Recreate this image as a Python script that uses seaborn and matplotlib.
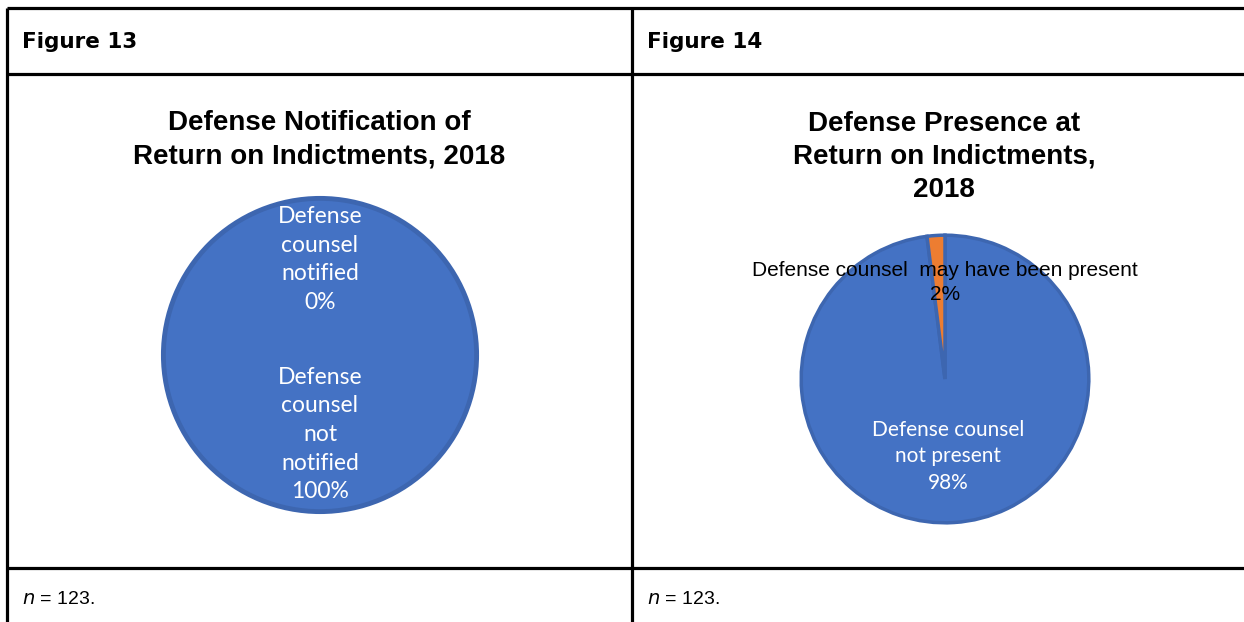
import matplotlib
matplotlib.use("Agg")
import matplotlib.pyplot as plt
import seaborn as sns

# Data
fig13_labels = ["Defense\ncounsel\nnotified", "Defense\ncounsel\nnot\nnotified"]
fig13_values = [0, 100]
fig14_labels = ["Defense counsel\nnot present", "Defense counsel  may have been present"]
fig14_values = [98, 2]

W, H = 1244, 622

sns.set_theme(style="white")
plt.rcParams['font.family'] = ['Lato', 'DejaVu Sans']
plt.rcParams['text.color'] = 'black'
blue, orange = sns.color_palette(["#4472C4", "#ED7D31"])
edge = "#3D66B0"

fig = plt.figure(figsize=(W / 100, H / 100), dpi=100)
fig.patch.set_facecolor("white")

# table grid drawn on a pixel-space background axes
bg = fig.add_axes([0, 0, 1, 1])
bg.set_xlim(0, W)
bg.set_ylim(H, 0)
bg.axis("off")
lw = 2.3
for y in [8, 74, 568]:
    bg.plot([7, W], [y, y], color="black", lw=lw, solid_capstyle="butt")
for x in [7, 632]:
    bg.plot([x, x], [8, H], color="black", lw=lw, solid_capstyle="butt")

# header / footer text
for x, txt in [(22, "Figure 13"), (647, "Figure 14")]:
    bg.text(x, 42, txt, fontsize=15.5, fontweight="bold", va="center", ha="left",
            family=["DejaVu Sans"])
    bg.text(x, 600, "$n$ = 123.", fontsize=14, va="center", ha="left",
            family=["Liberation Sans"])

# chart titles
bg.text(319, 140, "Defense Notification of\nReturn on Indictments, 2018", fontsize=20,
        fontweight="bold", ha="center", va="center", linespacing=1.35,
        family=["Liberation Sans"])
bg.text(944, 157, "Defense Presence at\nReturn on Indictments,\n2018", fontsize=20,
        fontweight="bold", ha="center", va="center", linespacing=1.35,
        family=["Liberation Sans"])


def pie_axes(cx, cy, r):
    ax = fig.add_axes([(cx - r) / W, (H - cy - r) / H, 2 * r / W, 2 * r / H])
    return ax


def fit(ax):
    ax.set_xlim(-1, 1)
    ax.set_ylim(-1, 1)
    ax.set_aspect("equal")
    ax.axis("off")


# Figure 13 pie
ax1 = pie_axes(320, 355, 159)
ax1.pie(fig13_values, colors=[orange, blue], startangle=90, counterclock=False,
        radius=0.985, wedgeprops=dict(edgecolor=edge, linewidth=3.5))
fit(ax1)
ax1.text(0, 0.60, f"{fig13_labels[0]}\n{fig13_values[0]}%", color="white", fontsize=16.5,
         ha="center", va="center", linespacing=1.45)
ax1.text(0, -0.50, f"{fig13_labels[1]}\n{fig13_values[1]}%", color="white", fontsize=16.5,
         ha="center", va="center", linespacing=1.45)

# Figure 14 pie
ax2 = pie_axes(945, 379, 146)
ax2.pie(fig14_values, colors=[blue, orange], startangle=90, counterclock=False,
        radius=0.985, wedgeprops=dict(edgecolor=edge, linewidth=2.5))
fit(ax2)
ax2.text(0.02, -0.53, f"{fig14_labels[0]}\n{fig14_values[0]}%", color="white", fontsize=15,
         ha="center", va="center", linespacing=1.4)
ax2.text(0.0, 0.66, f"{fig14_labels[1]}\n{fig14_values[1]}%", color="black", fontsize=15,
         ha="center", va="center", linespacing=1.3, family=["Liberation Sans"],
         clip_on=False)

fig.savefig("out.png", dpi=100)
